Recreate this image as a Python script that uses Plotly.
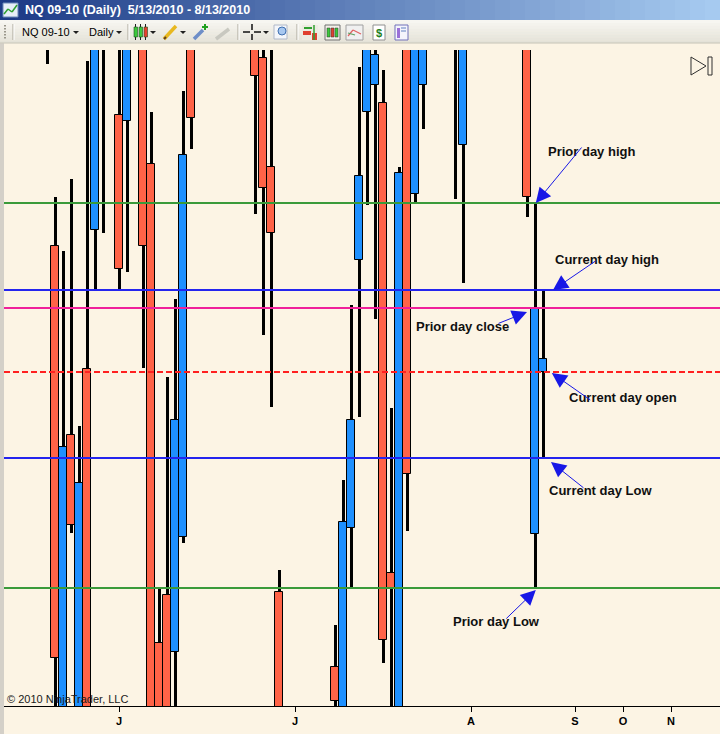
import pandas as pd
import plotly.graph_objects as go

W, H = 720, 734

# daily bars NQ 09-10, 5/13/2010 - 8/13/2010 (no session on 5/31, 7/5 traded)
dates = [d.strftime("%m/%d/%Y") for d in pd.bdate_range("2010-05-13", "2010-08-13")
         if d != pd.Timestamp("2010-05-31")]

opens = [1858, 1846, 1841, 1845, 1820.2, 1791, 1810.75, 1792, 1814.05, 1821.0,
         1833, 1842, 1826.75, 1826.45, 1839, 1843, 1824.3, 1800.35, 1802.75, 1799.9,
         1805.65, 1836, 1831, 1849, 1852, 1853, 1856, 1842, 1834, 1836,
         1829.6, 1824.15, 1802.9, 1781, 1770, 1765, 1758, 1765, 1762, 1799.15,
         1795, 1806.1, 1819.5, 1826.9, 1828.25, 1827.35, 1803.85, 1791, 1834, 1822.8,
         1828.25, 1845, 1856, 1850, 1841, 1825.25, 1848, 1860, 1856, 1862,
         1858, 1860, 1864, 1839, 1805.8, 1813.9]
highs = [1862, 1849, 1847, 1851, 1822.65, 1819.95, 1823.55, 1811.2, 1829.45, 1838,
         1846, 1845, 1833, 1840, 1846, 1845, 1826.9, 1803.05, 1813.65, 1817.55,
         1827.95, 1838, 1852, 1856, 1857, 1858, 1866, 1849, 1839, 1838,
         1833, 1831.5, 1804.0, 1786, 1776, 1771, 1762, 1779, 1796, 1801.25,
         1808.5, 1817.25, 1829.15, 1836, 1831.5, 1829.0, 1812.1, 1824.15, 1836, 1842,
         1846, 1853, 1858, 1854, 1848, 1838, 1863, 1862, 1866, 1865,
         1862, 1870, 1866, 1841, 1822.35, 1818.0]
lows = [1846, 1834, 1832, 1829.3, 1794.5, 1789, 1805.85, 1790, 1788, 1818.0,
        1820.85, 1834, 1818.0, 1818.9, 1835, 1814.1, 1792, 1788, 1787, 1795,
        1805.35, 1825.05, 1830.5, 1845, 1846, 1847, 1838, 1832, 1831, 1821.8,
        1815.75, 1812.15, 1776, 1768, 1755, 1753, 1754, 1752, 1760, 1793,
        1794, 1803.1, 1811.65, 1822.25, 1816.55, 1799.35, 1795, 1789, 1805.95, 1822.35,
        1826.05, 1841, 1846, 1836, 1822.55, 1818.35, 1846, 1850, 1852, 1854,
        1838, 1857, 1845, 1821.65, 1803.1, 1809.6]
closes = [1850, 1840, 1844, 1833, 1799.6, 1810.15, 1806.25, 1808.35, 1793, 1835,
          1843, 1837, 1819.05, 1838, 1844, 1820.2, 1794, 1791, 1789, 1811.5,
          1824.75, 1826.6, 1850, 1852, 1853, 1851, 1842, 1834, 1837, 1828.7,
          1823.1, 1820.85, 1779, 1770, 1764, 1758, 1760, 1761, 1794, 1797.45,
          1806.4, 1811.5, 1823.7, 1832, 1829.75, 1800.5, 1803.05, 1823.85, 1808.8, 1840,
          1844, 1852, 1850, 1839, 1834, 1834, 1861, 1855, 1864, 1861,
          1857, 1866, 1858, 1822.65, 1817.1, 1814.55]

# month ticks on the time axis (bar index), future months are projected
tick_pos = [12, 34, 56, 69, 75, 81]
tick_text = ["J", "J", "A", "S", "O", "N"]

label_text = ["Prior day high", "Current day high", "Prior day close",
              "Current day open", "Current day Low", "Prior day Low"]

UP, DOWN = "#1E90FF", "#FF6347"
CREAM = "#FCF4E4"
FONT = "Liberation Sans"

idx = list(range(len(dates)))
colors = [UP if c >= o else DOWN for o, c in zip(opens, closes)]
body_base = [min(o, c) for o, c in zip(opens, closes)]
body_len = [abs(c - o) for o, c in zip(opens, closes)]
wick_len = [h - l for h, l in zip(highs, lows)]

fig = go.Figure()
fig.add_trace(go.Bar(x=idx, y=wick_len, base=lows, width=0.375,
                     marker=dict(color="black", line=dict(width=0)),
                     customdata=dates, hoverinfo="skip"))
fig.add_trace(go.Bar(x=idx, y=body_len, base=body_base, width=1.0,
                     marker=dict(color=colors, line=dict(width=1, color="black")),
                     customdata=dates, hovertemplate="%{customdata}<extra></extra>"))


def X(px):
    return px / W


def Y(py):
    return 1 - py / H


shapes = []


def rect(x0, y0, x1, y1, fill, line=None, lw=0):
    shapes.append(dict(type="rect", xref="paper", yref="paper", layer="above",
                       x0=X(x0), x1=X(x1), y0=Y(y1), y1=Y(y0), fillcolor=fill,
                       line=dict(width=lw, color=line or fill)))


def seg(x0, y0, x1, y1, color, w=1):
    shapes.append(dict(type="line", xref="paper", yref="paper", layer="above",
                       x0=X(x0), x1=X(x1), y0=Y(y0), y1=Y(y1),
                       line=dict(width=w, color=color)))


def poly(pts, fill, line="rgba(0,0,0,0)", lw=0):
    p = "M " + " L ".join(f"{X(a):.5f},{Y(b):.5f}" for a, b in pts) + " Z"
    shapes.append(dict(type="path", xref="paper", yref="paper", layer="above", path=p,
                       fillcolor=fill, line=dict(width=lw, color=line)))


# window frame
rect(0, 43, 4, H, "#D4D0C8")

# title bar gradient
c0, c1 = (28, 58, 134), (166, 202, 240)
n = 48
for k in range(n):
    t = k / (n - 1)
    col = "rgb({},{},{})".format(*[round(a + (b - a) * t) for a, b in zip(c0, c1)])
    rect(k * W / n, 0, (k + 1) * W / n + 0.5, 20, col)

# toolbar gradient
t0, t1 = (247, 246, 241), (228, 226, 216)
for k in range(8):
    t = k / 7
    col = "rgb({},{},{})".format(*[round(a + (b - a) * t) for a, b in zip(t0, t1)])
    rect(0, 20 + k * 23 / 8, W, 20 + (k + 1) * 23 / 8 + 0.3, col)
seg(0, 43, W, 43, "#C9C6B9")

# title icon
rect(3, 3, 18, 17, "#E6EEF8", "#6A88B8", 1)
seg(4, 14, 8, 9, "#30A030", 1.5)
seg(8, 9, 12, 12, "#30A030", 1.5)
seg(12, 12, 17, 5, "#30A030", 1.5)

# toolbar: grip, separators, dropdown arrows
for yy in (25, 28, 31, 34, 37):
    rect(4, yy, 6, yy + 1.5, "#9A978C")
for xx in (13, 128, 238, 297):
    seg(xx, 24, xx, 40, "#A8A598")
    seg(xx + 1, 24, xx + 1, 40, "#FFFFFF")
for xx in (76, 119, 153, 183, 266):
    poly([(xx - 3, 31), (xx + 3, 31), (xx, 34)], "#202020")

# chart style icon (candles)
for x0, col in ((134, "#3CC83C"), (139, "#3CC83C"), (144, "#E84030")):
    seg(x0 + 1.5, 24, x0 + 1.5, 40, "#202020", 1)
    rect(x0, 27, x0 + 3.5, 37, col, "#205020", 0.6)
# pencil
seg(164, 39, 176, 26, "#E8B820", 3.5)
seg(164, 39, 166, 37, "#604020", 2)
# pin with plus
seg(194, 39, 203, 30, "#6E8EC8", 3.5)
seg(205, 24, 205, 30, "#20A020", 2)
seg(202, 27, 208, 27, "#20A020", 2)
# disabled tool
seg(216, 39, 229, 29, "#C8C8C0", 3.5)
# crosshair
seg(243, 32, 250, 32, "#101010", 1.5)
seg(254, 32, 261, 32, "#101010", 1.5)
seg(252, 24, 252, 30, "#101010", 1.5)
seg(252, 34, 252, 40, "#101010", 1.5)
# zoom
rect(274, 25, 287, 39, "#F4F6FA", "#B0B8C8", 1)
shapes.append(dict(type="circle", xref="paper", yref="paper", layer="above",
                   x0=X(278), x1=X(286), y0=Y(35), y1=Y(27),
                   fillcolor="#A8C8F0", line=dict(color="#4070B0", width=1)))
# indicator / strategy / chart / $ / properties icons
rect(302, 25, 318, 40, "#EDEBE2")
seg(304, 28, 312, 28, "#30A030", 2)
rect(303, 31, 311, 35, "#E04030")
rect(312, 33, 317, 40, "#E04030")
seg(314, 25, 314, 40, "#30A030", 1.5)
rect(325, 25, 340, 40, "#F2F0E8", "#707070", 1)
for x0, col in ((327, "#3CC83C"), (331, "#E04030"), (335, "#3CC83C")):
    rect(x0, 28, x0 + 3, 37, col, "#303030", 0.5)
rect(346, 25, 363, 40, "#F0F0F0", "#A0A0A0", 1)
seg(348, 36, 353, 30, "#E06060", 1.2)
seg(353, 30, 361, 34, "#E06060", 1.2)
seg(348, 33, 355, 35, "#60A060", 1.2)
rect(373, 25, 385, 40, "#FFFFFF", "#909090", 1)
rect(395, 25, 408, 40, "#F4F4FC", "#7070B8", 1)
rect(397, 28, 400, 38, "#9A70D8")
seg(401, 28, 406, 28, "#6080C0", 1)
seg(401, 31, 406, 31, "#6080C0", 1)

# scroll-to-end button
poly([(691, 57), (691, 75), (706, 66)], "rgba(0,0,0,0)", "#303030", 1)
rect(708, 57, 712, 75, "rgba(0,0,0,0)", "#303030", 1)

# price levels of prior / current day
levels = [
    (highs[-2], "#3A9A3A", "solid"),
    (highs[-1], "#2424EE", "solid"),
    (closes[-2], "#F0209A", "solid"),
    (opens[-1], "#FF2020", "6px,3px"),
    (lows[-1], "#2424EE", "solid"),
    (lows[-2], "#3A9A3A", "solid"),
]
for val, col, dash in levels:
    shapes.append(dict(type="line", xref="paper", yref="y", layer="above",
                       x0=X(4), x1=1, y0=val, y1=val,
                       line=dict(color=col, width=2, dash=dash)))

annotations = []


def text(px, py, s, size, color="black", bold=False, anchor="center", family=FONT):
    annotations.append(dict(xref="paper", yref="paper", x=X(px), y=Y(py), text=s,
                            showarrow=False, xanchor=anchor, yanchor="middle",
                            font=dict(family=family, size=size, color=color,
                                      weight="bold" if bold else "normal")))


text(23, 10, "NQ 09-10 (Daily)\u00a0 5/13/2010 - 8/13/2010", 12.5, "white", True, "left")
text(20, 32, "NQ 09-10", 11, anchor="left")
text(87, 32, "Daily", 11, anchor="left")
text(379, 33, "$", 11, "#208020", True)
text(5, 699, "© 2010 NinjaTrader, LLC", 11, "#1A1A1A", anchor="left")

label_xy = [(591, 151), (607, 259), (462, 326), (623, 397), (600, 490), (496, 621)]
for s, (px, py) in zip(label_text, label_xy):
    text(px, py, s, 13, "#101010", True)

# arrows: tip on the level, tail offset in pixels
arrows = [
    (64.1, highs[-2], 47, -57),
    (66.25, highs[-1], 44, -30),
    (63.0, closes[-2] - 0.2, -30, 12),
    (66.1, opens[-1] - 0.05, 40, 28),
    (66.0, lows[-1] - 0.2, 34, 27),
    (64.1, lows[-2] - 0.1, -31, 30),
]
for xa, ya, ax, ay in arrows:
    annotations.append(dict(x=xa, y=ya, xref="x", yref="y", text="", showarrow=True,
                            ax=ax, ay=ay, arrowhead=2, arrowsize=3, arrowwidth=1,
                            arrowcolor="#1818E6", standoff=0))

fig.update_layout(
    width=W, height=H,
    margin=dict(l=0, r=0, t=0, b=0),
    paper_bgcolor=CREAM, plot_bgcolor=CREAM,
    barmode="overlay", showlegend=False, bargap=0,
    shapes=shapes, annotations=annotations,
    xaxis=dict(domain=[X(4), 1], range=[(4 - 23) / 8, (720 - 23) / 8],
               showgrid=False, zeroline=False, showline=True, linecolor="black",
               linewidth=1, ticks="outside", ticklen=5, tickcolor="black",
               tickvals=tick_pos, ticktext=[f"<b>{t}</b>" for t in tick_text],
               tickfont=dict(family=FONT, size=11, color="black"), fixedrange=True),
    yaxis=dict(domain=[Y(706), Y(50)], range=[1797.2, 1830.0], visible=False,
               fixedrange=True),
)

# the page body has a default margin; drop it so the figure sits at the window origin
fig.write_html("out.html", config={"displayModeBar": False},
               post_script="document.body.style.margin='0';document.body.style.overflow='hidden';")
